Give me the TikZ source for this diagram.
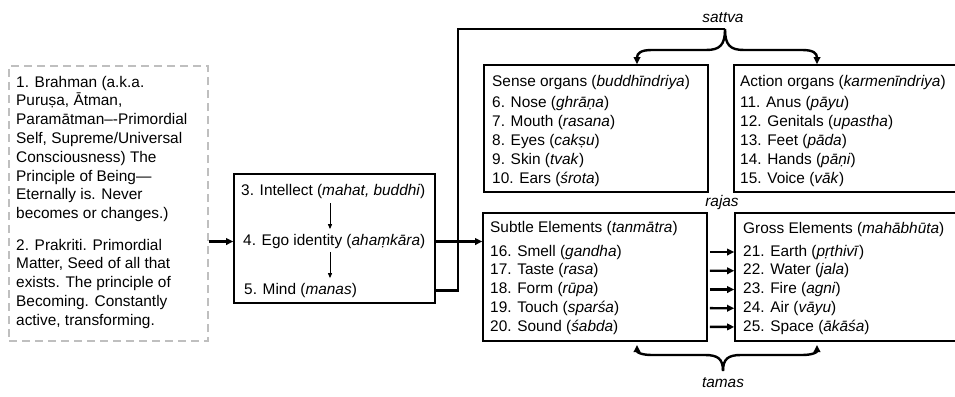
\documentclass[tikz,border=0pt]{standalone}
\usepackage{fontspec}
\setmainfont{Liberation Sans}
\usetikzlibrary{arrows.meta,calc}
\begin{document}
\begin{tikzpicture}[x=1pt,y=-1pt,
  txt/.style={anchor=base west,inner sep=0pt,font=\fontsize{15.4}{19}\selectfont},
  lbl/.style={anchor=base,inner sep=0pt,font=\fontsize{15.4}{19}\selectfont\itshape},
  box/.style={draw,line width=1.6pt,inner sep=0pt,rectangle},
  dbox/.style={draw=black!25,line width=1.5pt,dash pattern=on 8pt off 5pt,inner sep=0pt,rectangle},
  conn/.style={line width=2.4pt,-{Triangle[length=7pt,width=6.5pt]}},
  wire/.style={line width=2.4pt},
  smallarr/.style={line width=0.9pt,-{Triangle[length=5pt,width=4pt]}}]
\useasboundingbox (0,0) rectangle (955,396);
\clip (0,0) rectangle (955,396);

% boxes
\node[dbox,minimum width=199pt,minimum height=275pt] (left) at (108.5,203.5) {};
\node[box,minimum width=201pt,minimum height=129pt] (mid) at (334.5,238.5) {};
\node[box,minimum width=224pt,minimum height=127pt] (sense) at (596,128.5) {};
\node[box,minimum width=246pt,minimum height=127pt] (action) at (857,128.5) {};
\node[box,minimum width=224pt,minimum height=128pt] (sub) at (595,277) {};
\node[box,minimum width=245pt,minimum height=128pt] (gross) at (857.5,277) {};

% left box text
\node[txt] (l1) at (16,87) {1. Brahman (a.k.a.};
\node[txt] (l2) at (16,105.8) {Puruṣa, Ātman,};
\node[txt] (l3) at (16,124.6) {Paramātman–-Primordial};
\node[txt] (l4) at (16,143.4) {Self, Supreme/Universal};
\node[txt] (l5) at (16,162.2) {Consciousness) The};
\node[txt] (l6) at (16,181) {Principle of Being—};
\node[txt] (l7) at (16,199.8) {Eternally is. Never};
\node[txt] (l8) at (16,218.6) {becomes or changes.)};
\node[txt] (l9) at (16,250) {2. Prakriti. Primordial};
\node[txt] (l10) at (16,268.8) {Matter, Seed of all that};
\node[txt] (l11) at (16,287.6) {exists. The principle of};
\node[txt] (l12) at (16,306.4) {Becoming. Constantly};
\node[txt] (l13) at (16,325.2) {active, transforming.};

% middle box text
\node[txt] (m3) at (241,195) {3. Intellect (\textit{mahat, buddhi})};
\node[txt] (m4) at (243,245.5) {4. Ego identity (\textit{ahaṃkāra})};
\node[txt] (m5) at (244,294.5) {5. Mind (\textit{manas})};
\coordinate (mx) at (330,0);
\draw[smallarr,shorten <=5pt,shorten >=5pt] (m3.south -| mx) -- (m4.north -| mx);
\draw[smallarr,shorten <=3pt,shorten >=5pt] (m4.south -| mx) -- (m5.north -| mx);

% sense organs
\node[txt] (s0) at (492,86) {Sense organs (\textit{buddhīndriya})};
\node[txt] (s6) at (492,107) {6. Nose (\textit{ghrāṇa})};
\node[txt] (s7) at (492,126) {7. Mouth (\textit{rasana})};
\node[txt] (s8) at (492,145) {8. Eyes (\textit{cakṣu})};
\node[txt] (s9) at (492,164) {9. Skin (\textit{tvak})};
\node[txt] (s10) at (492,183) {10. Ears (\textit{śrota})};

% action organs
\node[txt] (a0) at (740,86) {Action organs (\textit{karmenīndriya})};
\node[txt] (a11) at (740,107) {11. Anus (\textit{pāyu})};
\node[txt] (a12) at (740,126) {12. Genitals (\textit{upastha})};
\node[txt] (a13) at (740,145) {13. Feet (\textit{pāda})};
\node[txt] (a14) at (740,164) {14. Hands (\textit{pāṇi})};
\node[txt] (a15) at (740,183) {15. Voice (\textit{vāk})};

% subtle elements
\node[txt] (t0) at (490,232.5) {Subtle Elements (\textit{tanmātra})};
\node[txt] (t16) at (490,256) {16. Smell (\textit{gandha})};
\node[txt] (t17) at (490,274.75) {17. Taste (\textit{rasa})};
\node[txt] (t18) at (490,293.5) {18. Form (\textit{rūpa})};
\node[txt] (t19) at (490,312.25) {19. Touch (\textit{sparśa})};
\node[txt] (t20) at (490,331) {20. Sound (\textit{śabda})};

% gross elements
\node[txt] (g0) at (743,233.5) {Gross Elements (\textit{mahābhūta})};
\node[txt] (g21) at (743,256) {21. Earth (\textit{pṛthivī})};
\node[txt] (g22) at (743,274.75) {22. Water (\textit{jala})};
\node[txt] (g23) at (743,293.5) {23. Fire (\textit{agni})};
\node[txt] (g24) at (743,312.25) {24. Air (\textit{vāyu})};
\node[txt] (g25) at (743,331) {25. Space (\textit{ākāśa})};

% labels
\node[lbl] (sattva) at (723,22.5) {sattva};
\node[lbl] (rajas) at (722,206.5) {rajas};
\node[lbl] (tamas) at (723,387.5) {tamas};

% connectors
\draw[conn] (left.east |- m4) -- (mid.west |- m4);
\draw[conn] (mid.east |- m4) -- (sub.west |- m4);
\coordinate (top) at (458,29);
\coordinate (sat) at (725,29);
\draw[wire] (mid.east |- m5) -| (top) -- (sat);
\coordinate (sl) at (637,0);
\coordinate (sr) at (817,0);
\draw[conn] (sat) .. controls (725,45) and (720,50) .. (706,50) -- (652,50)
  .. controls (641,50) and (637,53) .. (sense.north -| sl);
\draw[conn] (sat) .. controls (725,45) and (730,50) .. (744,50) -- (802,50)
  .. controls (813,50) and (817,53) .. (action.north -| sr);

\coordinate (tam) at (723,371);
\coordinate (tl) at (637,345);
\coordinate (tr) at (817,345);
\draw[conn] (tam) .. controls (723,359) and (718,355) .. (705,355) -- (652,355)
  .. controls (641,355) and (637,352) .. (tl);
\draw[conn] (tam) .. controls (723,359) and (728,355) .. (741,355) -- (802,355)
  .. controls (813,355) and (817,352) .. (tr);

\foreach \a/\b in {t16/g21,t17/g22,t18/g23,t19/g24,t20/g25}
  \draw[conn,shorten <=2pt] (sub.east |- \a) -- (gross.west |- \b);
\end{tikzpicture}
\end{document}
